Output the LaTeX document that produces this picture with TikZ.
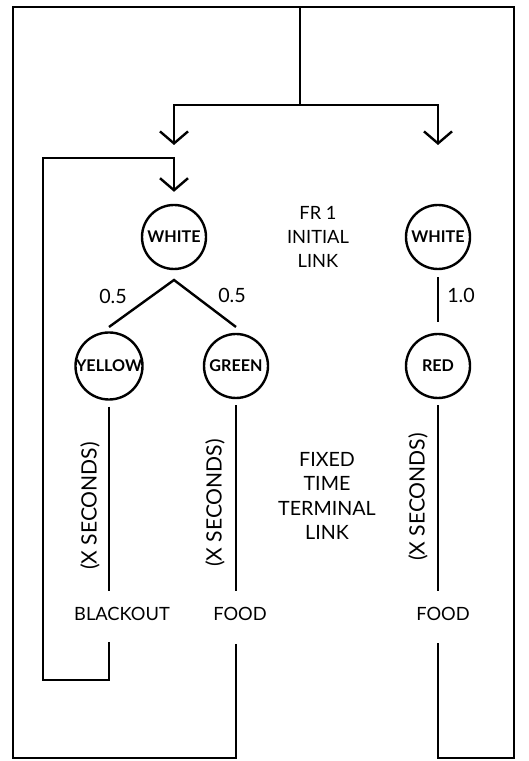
\documentclass[tikz,border=0pt]{standalone}
\usepackage{fontspec}
\setmainfont{Lato}
\usetikzlibrary{positioning,arrows.meta}

\begin{document}
\begin{tikzpicture}[
   stim/.style={draw, circle, minimum size=16mm, inner sep=0pt,
                font=\fontsize{11.5}{13}\selectfont\bfseries},
   lbl/.style={inner sep=1mm, align=center, font=\fontsize{13}{17}\selectfont},
   big/.style={lbl, font=\fontsize{14}{17.5}\selectfont},
   dur/.style={lbl, rotate=90, font=\fontsize{15}{17}\selectfont},
   >={Straight Barb[length=3mm, width=7mm]},
   line width=0.6mm, on grid, node distance=32.25mm]
  \useasboundingbox (0,0) rectangle (132.25mm,190.25mm);
  \node[stim] (wl) at (43.5mm,131mm) {WHITE};
  \node[stim, right=66mm of wl] (wr) {WHITE};
  \node[stim, below left=32.25mm and 16.25mm of wl] (yel) {YELLOW};
  \node[stim, below right=32.25mm and 15.5mm of wl] (grn) {GREEN};
  \node[stim, below=of wr] (red) {RED};
  \node[lbl, right=36mm of wl] (init) {FR 1\\INITIAL\\LINK};
  \node[big, below right=32.5mm and 22.75mm of grn] (term) {FIXED\\TIME\\TERMINAL\\LINK};
  \node[big, above right=17.5mm and 1mm of yel] (p1) {0.5};
  \node[big, above left=17.75mm and 1mm of grn] (p2) {0.5};
  \node[big, below right=14.5mm and 5.75mm of wr] (p3) {1.0};
  \node[dur, below left=35mm and 4.75mm of yel] (d1) {(X SECONDS)};
  \node[dur, below left=34.25mm and 5.25mm of grn] (d2) {(X SECONDS)};
  \node[dur, below left=32.75mm and 5mm of red] (d3) {(X SECONDS)};
  \node[lbl, below right=62mm and 3.25mm of yel] (blk) {BLACKOUT};
  \node[lbl, below right=62mm and 1mm of grn] (food1) {FOOD};
  \node[lbl, below right=62mm and 1.25mm of red] (food2) {FOOD};
  \coordinate[below=10.75mm of wl] (fork);
  \coordinate[above=9.75mm of yel] (yin);
  \coordinate[above=9.75mm of grn] (gin);
  \coordinate[below=7mm of blk] (blkout);
  \coordinate[below=7.5mm of food1] (f1out);
  \coordinate[below=7.25mm of food2] (f2out);
  \coordinate[above=19.75mm of wl] (wtop);
  \coordinate[above=23mm of wl] (inL);
  \coordinate[above=23mm of wr] (inR);
  \coordinate (retL) at (10.75mm,20.25mm);
  \coordinate (frBL) at (3.25mm,0.75mm);
  \coordinate (frTR) at (128.5mm,188.5mm);
  \coordinate (split) at (75mm,164mm);
  \draw (yin) -- (fork) -- (gin);
  \draw[shorten <=1.75mm, shorten >=2.75mm] (wr) -- (red);
  \draw[shorten <=1.5mm, shorten >=2.75mm] (yel) -- (yel |- blk.north);
  \draw[shorten <=1.5mm, shorten >=2.75mm] (grn) -- (grn |- food1.north);
  \draw[shorten <=1.5mm, shorten >=2.75mm] (red) -- (red |- food2.north);
  \draw[->, shorten >=3mm] (blkout -| yel) |- (retL) |- (wtop) -- (wl);
  \draw (f1out -| grn) |- (frBL) |- (frTR) -- (frTR |- frBL) -| (f2out -| red);
  \draw (split |- frTR) -- (split);
  \draw[->] (split) -| (inL);
  \draw[->] (split) -| (inR);
\end{tikzpicture}
\end{document}
